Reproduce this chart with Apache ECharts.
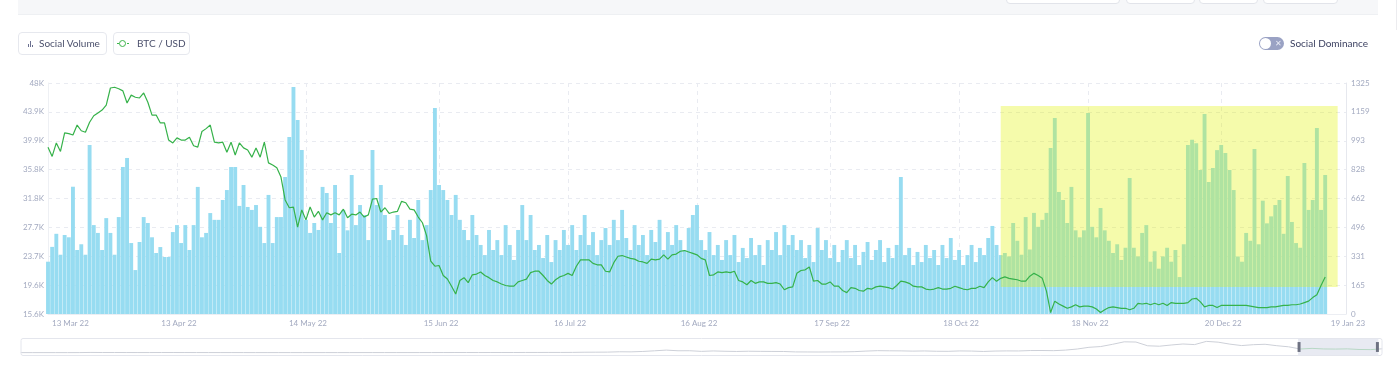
<!DOCTYPE html>
<html>
<head>
<meta charset="utf-8">
<script src="https://cdn.jsdelivr.net/npm/echarts@6/dist/echarts.min.js"></script>
<style>
html,body{margin:0;padding:0;background:#fff;}
#wrap{position:relative;width:1400px;height:378px;overflow:hidden;font-family:Lato,'Noto Sans',sans-serif;}
#chart{position:absolute;left:0;top:0;width:1400px;height:378px;}
.band{position:absolute;left:18px;top:0;width:1360px;height:14px;background:#f6f7f9;border-bottom:1px solid #eef0f3;}
.tb{position:absolute;top:-12px;height:14px;background:#fff;border:1px solid #e2e4ea;border-radius:4px;}
.edge{position:absolute;left:1396px;top:0;width:1px;height:30px;background:#ececef;}
.lbtn{position:absolute;top:32px;height:23px;box-sizing:border-box;border:1px solid #e6e8ee;border-radius:4px;background:#fff;font-size:10px;color:#4b506c;line-height:21px;white-space:nowrap;}
.lbtn .txt{position:absolute;top:0;}
.bi{position:absolute;width:1px;background:#6b7090;}
.ring{position:absolute;left:5px;top:7px;width:5px;height:5px;border:1.5px solid #3cb54a;border-radius:50%;}
.stub{position:absolute;top:10px;height:1px;width:2px;background:#3cb54a;}
.tog{position:absolute;left:1259px;top:37px;width:25px;height:13px;border-radius:7px;background:#9aa2c4;}
.knob{position:absolute;left:1px;top:1px;width:11px;height:11px;border-radius:50%;background:#fff;}
.x{position:absolute;left:16px;top:0px;font-size:8px;line-height:13px;color:#e8ebf5;}
.tlabel{position:absolute;left:1290px;top:36px;font-size:10px;line-height:14px;color:#3d4262;white-space:nowrap;}
</style>
</head>
<body>
<div id="wrap">
  <div id="chart"></div>
  <div class="band"></div>
  <div class="tb" style="left:1006px;width:112px"></div>
  <div class="tb" style="left:1126px;width:67px"></div>
  <div class="tb" style="left:1199px;width:57px"></div>
  <div class="tb" style="left:1263px;width:73px"></div>
  <div class="edge"></div>
  <div class="lbtn" style="left:18px;width:89px">
    <span class="bi" style="left:9px;top:11px;height:3px"></span>
    <span class="bi" style="left:11px;top:8px;height:6px"></span>
    <span class="bi" style="left:13px;top:12px;height:2px"></span>
    <span class="txt" style="left:20px">Social Volume</span>
  </div>
  <div class="lbtn" style="left:113px;width:77px">
    <span class="stub" style="left:3px"></span>
    <span class="ring" style="left:5px"></span>
    <span class="stub" style="left:13px"></span>
    <span class="txt" style="left:23px">BTC / USD</span>
  </div>
  <div class="tog"><div class="knob"></div><div class="x">&#x2715;</div></div>
  <div class="tlabel">Social Dominance</div>
</div>
<script>
// ---------- data ----------
const firstDay = [2022, 2, 13];   // 13 Mar 22
const lastDay = [2023, 0, 19];    // 19 Jan 23
const monthNames = ['Jan','Feb','Mar','Apr','May','Jun','Jul','Aug','Sep','Oct','Nov','Dec'];

const xTickLabels = ['13 Mar 22','13 Apr 22','14 May 22','15 Jun 22','16 Jul 22','16 Aug 22','17 Sep 22','18 Oct 22','18 Nov 22','20 Dec 22','19 Jan 23'];
const priceTickLabels = ['15.6K','19.6K','23.7K','27.7K','31.8K','35.8K','39.9K','43.9K','48K'];
const volumeTickLabels = ['0','165','331','496','662','828','993','1159','1325'];

// Social volume, one value per day from 13 Mar 22
const socialVolume = [
 300,385,460,340,453,440,730,367,400,340,
 970,510,465,367,550,465,340,556,843,895,
 407,252,413,556,522,440,350,384,327,327,
 470,510,407,510,367,510,729,440,465,579,
 540,540,654,711,843,843,620,740,614,597,
 625,500,407,683,407,556,556,786,1015,1302,
 1113,941,540,465,522,482,729,694,522,740,
 350,597,480,797,510,625,568,424,941,625,
 740,568,424,482,568,453,396,540,436,654,
 424,510,711,1182,740,711,654,568,683,540,
 482,424,568,453,396,338,482,367,424,338,
 510,396,310,482,625,424,568,367,396,321,
 453,298,424,367,482,396,510,367,453,568,
 396,470,338,424,493,396,540,424,597,436,
 367,510,396,453,338,482,413,540,367,470,
 396,510,424,367,493,568,625,424,367,470,
 338,396,310,424,338,453,298,379,321,436,
 338,396,281,424,367,470,338,510,396,453,
 367,424,321,396,298,493,367,424,321,396,
 298,367,424,321,396,281,356,413,310,367,
 424,298,379,321,396,786,338,379,281,356,
 298,396,321,367,281,396,321,436,310,367,
 281,338,396,298,379,338,436,505,396,338,
 350,330,522,420,340,556,370,580,500,540,
 580,952,1124,700,654,522,729,480,440,480,
 1153,500,440,608,480,420,350,400,310,380,
 780,380,330,465,510,300,360,260,330,380,
 300,367,212,400,970,1000,980,826,1147,757,
 837,940,970,923,826,711,330,300,465,420,
 946,400,650,520,560,625,654,460,792,528,
 407,380,866,597,654,1067,597,797
];

// BTC / USD in thousands of dollars, one value per day from 13 Mar 22
const btcUsdK = [
 39.0,37.7,39.6,38.4,41.0,40.9,40.7,42.1,41.3,41.1,
 42.5,43.4,43.8,44.2,44.9,47.3,47.4,47.2,46.9,45.2,
 46.3,46.0,45.9,46.6,45.3,43.5,43.5,42.4,42.4,40.0,
 39.6,40.3,40.0,40.0,40.4,39.2,39.0,41.2,41.6,42.1,
 39.7,39.6,39.7,38.3,39.7,37.9,39.6,38.9,38.6,37.6,
 38.9,37.6,39.7,36.8,36.5,36.1,34.8,31.6,30.5,30.6,
 27.8,30.2,28.8,30.6,29.2,30.0,28.8,29.8,29.5,29.8,
 29.5,30.3,29.1,29.6,29.5,29.9,29.2,29.5,31.7,31.8,
 29.9,30.5,29.7,29.9,30.0,31.4,31.2,30.3,30.2,29.2,
 28.4,26.6,23.0,22.3,22.4,21.0,20.5,19.5,18.4,20.3,
 20.7,20.0,21.1,21.2,21.5,21.0,20.7,20.3,20.1,19.8,
 19.6,19.5,19.5,20.1,20.3,20.5,21.4,21.6,21.6,21.0,
 20.3,19.8,20.4,20.8,21.0,21.3,21.0,22.3,23.2,23.2,
 23.2,22.7,22.5,22.5,21.6,21.5,22.8,23.7,23.8,23.6,
 23.4,23.3,23.0,22.9,22.7,23.3,23.2,23.3,23.9,23.3,
 23.9,24.0,24.4,24.5,24.3,24.1,23.9,23.4,23.2,21.0,
 21.1,21.5,21.4,21.5,21.4,21.6,20.3,20.1,19.7,20.3,
 19.9,20.1,20.1,19.9,19.9,20.0,19.8,19.0,19.3,19.4,
 21.3,21.7,21.8,22.2,20.2,20.3,19.8,19.8,20.1,19.5,
 19.5,18.9,18.6,19.3,19.2,18.9,18.8,19.2,19.1,19.4,
 19.5,19.4,19.3,19.1,19.6,20.2,20.1,19.9,19.5,19.4,
 19.4,19.1,19.0,19.1,19.3,19.1,19.1,19.2,19.5,19.3,
 19.1,19.0,19.2,19.2,19.5,19.3,20.1,20.7,20.2,20.6,
 20.8,20.6,20.5,20.4,20.2,20.2,20.9,21.3,21.0,20.6,
 18.8,15.8,17.4,17.0,16.7,16.4,16.6,16.9,16.6,16.7,
 16.7,16.6,16.3,15.8,16.2,16.5,16.6,16.5,16.4,16.4,
 16.2,16.4,17.1,17.0,17.1,16.9,17.1,16.9,17.1,16.8,
 17.2,17.1,17.1,17.1,17.2,17.7,17.8,17.3,16.6,16.8,
 16.8,16.5,16.8,16.8,16.8,16.8,16.8,16.8,16.8,16.7,
 16.6,16.5,16.5,16.5,16.6,16.6,16.7,16.8,16.8,16.9,
 16.9,17.0,17.2,17.4,17.9,18.3,19.6,20.8
];

// Long BTC history behind the navigator, monthly from May 2013 (USD)
const historyStart = [2013, 4];
const historyBtcUsd = [
 129,97,106,135,133,198,1130,757,
 800,550,450,450,630,640,585,480,390,340,375,320,
 220,255,245,235,230,265,285,230,236,315,378,430,
 370,437,416,448,530,670,625,575,610,700,745,964,
 970,1190,1080,1350,2300,2500,2870,4700,4340,6470,10000,13800,
 10200,10300,6900,9200,7500,6400,7700,7000,6600,6300,4000,3700,
 3450,3850,4100,5300,8500,10800,10000,9600,8300,9200,7550,7200,
 9350,8600,6400,8600,9450,9150,11350,11650,10780,13800,19700,29000,
 33100,45200,58900,57700,37300,35000,41500,47100,43800,61300,57000,46300,
 38500,43200,45500,37700,31800,19800,23300,20000,19400,20500,17200,16500,
 21000
];
const navigatorWindow = [93.8, 99.7];   // percent of history shown in the main chart

// Highlighted region (annotation)
const highlightFrom = '28 Oct 22';
const highlightTo = '17 Jan 23';
const highlightLow = 155;
const highlightHigh = 1193;

// ---------- build categories ----------
function fmtDay(d){ return d.getUTCDate()+' '+monthNames[d.getUTCMonth()]+' '+String(d.getUTCFullYear()).slice(2); }
const days = [];
for (let t = Date.UTC(firstDay[0],firstDay[1],firstDay[2]); t <= Date.UTC(lastDay[0],lastDay[1],lastDay[2]); t += 86400000) {
  days.push(fmtDay(new Date(t)));
}
const historyMonths = historyBtcUsd.map((v,i)=>{
  const m = historyStart[1] + i;
  return monthNames[m % 12] + ' ' + (historyStart[0] + Math.floor(m/12));
});

const labelColor = '#a3aac0';
const gridLine = {show:true, lineStyle:{color:'#e9ebf1', type:[4,4], width:1}};
const showTick = (idx, val) => xTickLabels.indexOf(val) >= 0;

const chart = echarts.init(document.getElementById('chart'), null, {renderer:'canvas'});
chart.setOption({
  animation:false,
  backgroundColor:'transparent',
  textStyle:{fontFamily:'Lato, "Noto Sans", sans-serif'},
  grid:[
    {left:48, right:54, top:83, bottom:64, containLabel:false},
    {left:18, right:20, top:338, height:18, show:false}
  ],
  xAxis:[
    {type:'category', gridIndex:0, data:days, boundaryGap:false,
     axisLine:{show:true, lineStyle:{color:'#eceef3'}},
     axisTick:{show:false},
     axisLabel:{interval:showTick, color:labelColor, fontSize:8, margin:5, alignMinLabel:'left', padding:[0,0,0,4]},
     splitLine:{show:true, interval:showTick, lineStyle:{color:'#e9ebf1', type:[4,4]}}},
    {type:'category', gridIndex:1, data:historyMonths, show:false, boundaryGap:false}
  ],
  yAxis:[
    {type:'value', gridIndex:0, position:'right', min:0, max:1325, interval:165.625,
     axisLine:{show:true, lineStyle:{color:'#e6e8ee'}}, axisTick:{show:false},
     axisLabel:{color:labelColor, fontSize:8, margin:5,
       formatter:(v)=>volumeTickLabels[Math.round(v/165.625)]},
     splitLine:gridLine},
    {type:'value', gridIndex:0, position:'left', min:15.6, max:48, alignTicks:true,
     axisLine:{show:true, lineStyle:{color:'#eef0f4'}}, axisTick:{show:false},
     axisLabel:{color:labelColor, fontSize:8, margin:4,
       formatter:(v)=>priceTickLabels[Math.round((v-15.6)/4.05)]},
     splitLine:{show:false}},
    {type:'value', gridIndex:1, show:false, scale:false}
  ],
  dataZoom:[{
    type:'slider', xAxisIndex:1, filterMode:'none',
    start:navigatorWindow[0], end:navigatorWindow[1],
    left:18, right:20, top:338, height:18,
    backgroundColor:'#fff', borderColor:'#e4e6ed', borderRadius:2,
    fillerColor:'rgba(224,227,237,0.75)',
    dataBackground:{lineStyle:{color:'#cdd0d8', width:1, opacity:1}, areaStyle:{opacity:0}},
    selectedDataBackground:{lineStyle:{color:'#3cb54a', width:1, opacity:1}, areaStyle:{opacity:0}},
    handleIcon:'path://M0,0 L3,0 L3,10 L0,10 Z',
    handleSize:'55%',
    handleStyle:{color:'#6e7282', borderColor:'#6e7282', borderWidth:0},
    moveHandleSize:0, showDetail:false, brushSelect:false, zoomLock:true,
    emphasis:{handleStyle:{color:'#6e7282', borderColor:'#6e7282'}}
  }],
  series:[
    {name:'Social Volume', type:'bar', xAxisIndex:0, yAxisIndex:0, data:socialVolume,
     barCategoryGap:'7%', itemStyle:{color:'#97dcf1'}, z:2, silent:true},
    {name:'highlight', type:'custom', xAxisIndex:0, yAxisIndex:0, z:3, silent:true,
     data:[[days.indexOf(highlightFrom), days.indexOf(highlightTo), highlightLow, highlightHigh]],
     encode:{x:[0,1], y:[2,3]},
     renderItem:(params, api)=>{
       const a = api.coord([api.value(0), api.value(3)]);
       const b = api.coord([api.value(1), api.value(2)]);
       return {type:'rect', shape:{x:a[0], y:a[1], width:b[0]-a[0], height:b[1]-a[1]},
               style:{fill:'rgba(224,244,0,0.33)'}};
     }},
    {name:'BTC / USD', type:'line', xAxisIndex:0, yAxisIndex:1, data:btcUsdK,
     symbol:'none', lineStyle:{color:'#36b24a', width:1.2}, itemStyle:{color:'#36b24a'}, z:5, silent:true},
    {name:'history', type:'line', xAxisIndex:1, yAxisIndex:2, data:historyBtcUsd,
     symbol:'none', lineStyle:{opacity:0}, silent:true, z:0}
  ]
});
</script>
</body>
</html>
